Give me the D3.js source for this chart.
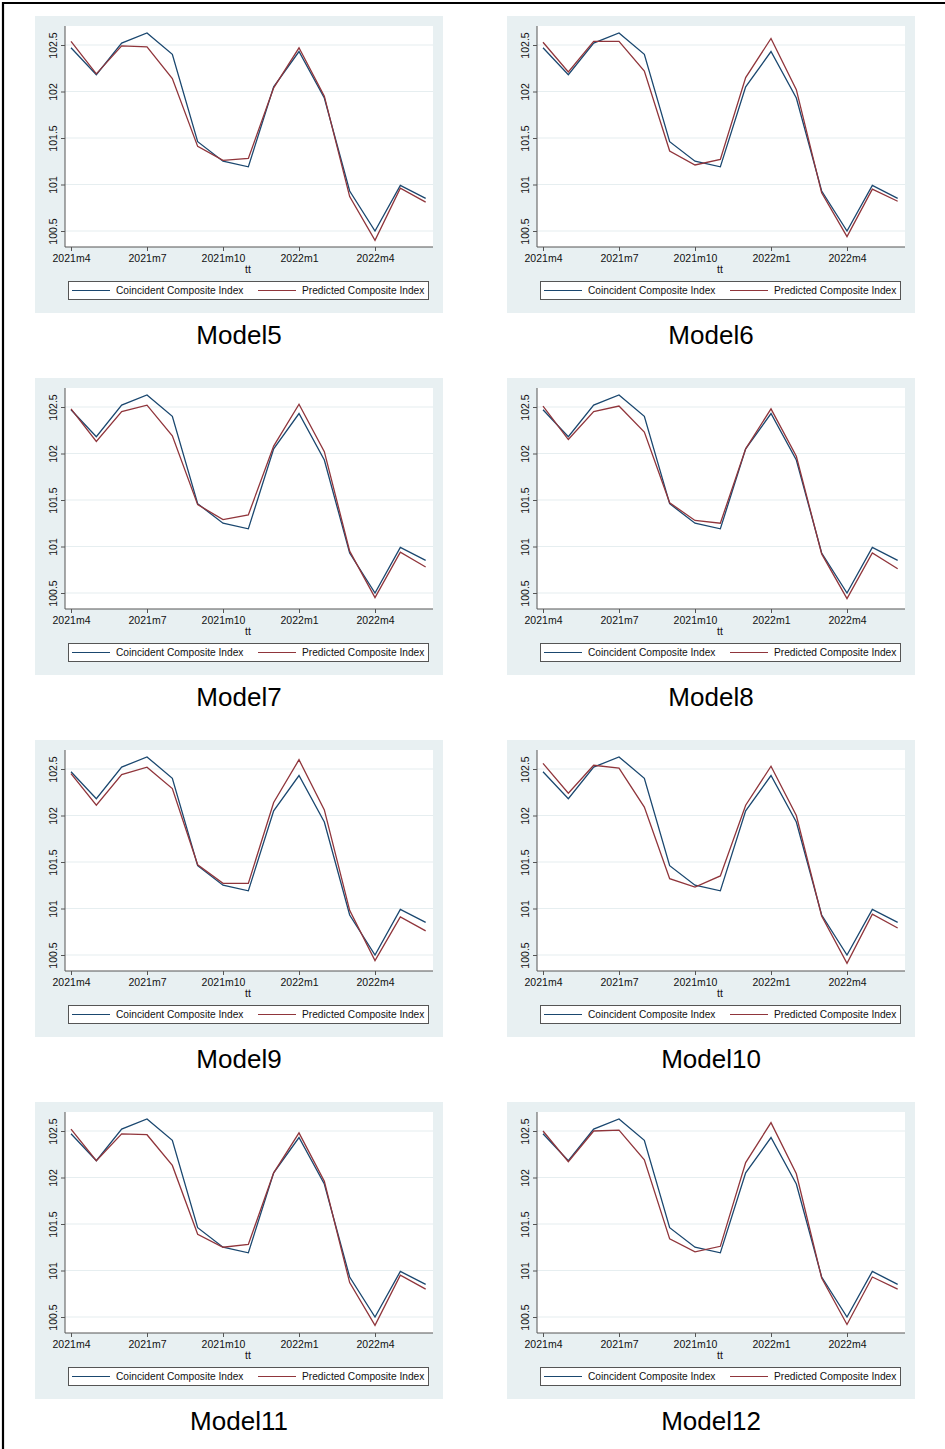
<!DOCTYPE html>
<html>
<head>
<meta charset="utf-8">
<script src="https://cdn.jsdelivr.net/npm/d3@7"></script>
<style>
  html, body { margin: 0; padding: 0; background: #ffffff; }
  svg { display: block; }
  text { font-family: "Liberation Sans", Arial, sans-serif; }
</style>
</head>
<body>
<svg id="chart" width="945" height="1449"></svg>
<script>
// Monthly periods on the x axis
const months = ["2021m4","2021m5","2021m6","2021m7","2021m8","2021m9","2021m10","2021m11","2021m12",
                "2022m1","2022m2","2022m3","2022m4","2022m5","2022m6"];
const xTickLabels = ["2021m4","2021m7","2021m10","2022m1","2022m4"];
const yTicks = [100.5, 101, 101.5, 102, 102.5];

// Coincident composite index (same in every panel)
const coincident = [102.47,102.18,102.52,102.63,102.40,101.46,101.25,101.19,102.05,102.43,101.93,100.93,100.50,100.99,100.85];

// Predicted composite index for each model
const predModel5  = [102.54,102.19,102.49,102.48,102.14,101.41,101.26,101.28,102.04,102.47,101.95,100.87,100.40,100.96,100.81];
const predModel6  = [102.53,102.21,102.54,102.54,102.22,101.36,101.21,101.27,102.15,102.57,102.02,100.91,100.44,100.95,100.82];
const predModel7  = [102.48,102.13,102.45,102.52,102.19,101.45,101.29,101.34,102.08,102.53,102.02,100.95,100.45,100.94,100.78];
const predModel8  = [102.51,102.15,102.45,102.51,102.23,101.47,101.28,101.25,102.05,102.48,101.97,100.92,100.44,100.93,100.76];
const predModel9  = [102.45,102.11,102.44,102.52,102.29,101.47,101.27,101.27,102.14,102.60,102.06,100.98,100.44,100.91,100.76];
const predModel10 = [102.56,102.24,102.54,102.51,102.09,101.32,101.23,101.35,102.11,102.53,102.00,100.92,100.41,100.94,100.79];
const predModel11 = [102.52,102.18,102.47,102.46,102.13,101.39,101.25,101.28,102.05,102.48,101.96,100.87,100.41,100.95,100.80];
const predModel12 = [102.50,102.17,102.50,102.51,102.19,101.34,101.20,101.26,102.16,102.59,102.04,100.92,100.42,100.93,100.80];

const modelNames = ["Model5","Model6","Model7","Model8","Model9","Model10","Model11","Model12"];
const predictedSeries = [predModel5, predModel6, predModel7, predModel8, predModel9, predModel10, predModel11, predModel12];

const seriesNames = ["Coincident Composite Index", "Predicted Composite Index"];
const seriesColors = ["#1a476f", "#90353b"];

const svg = d3.select("#chart");

// Outer frame: top and left rules
svg.append("path")
  .attr("d", "M3,1449 L3,3 L945,3")
  .attr("fill", "none").attr("stroke", "#000").attr("stroke-width", 2.2);

// Panel geometry (local coordinates)
const panelW = 408, panelH = 297;
const plotL = 30, plotR = 398, plotT = 10, plotB = 231;
const colX = [35, 507];
const rowY = [16, 378, 740, 1102];

const x = d3.scaleLinear().domain([0, 12]).range([36, 340]);
const y = d3.scaleLinear().domain([100.5, 102.5]).range([215, 29]);

const line = d3.line().x((d, i) => x(i)).y(d => y(d));

modelNames.forEach((name, k) => {
  const col = k % 2, row = Math.floor(k / 2);
  const g = svg.append("g").attr("transform", `translate(${colX[col]},${rowY[row]})`);

  // graph region
  g.append("rect").attr("width", panelW).attr("height", panelH).attr("fill", "#e8f0f2");
  // plot region
  g.append("rect").attr("x", plotL).attr("y", plotT)
    .attr("width", plotR - plotL).attr("height", plotB - plotT).attr("fill", "#ffffff");

  // horizontal grid lines
  g.selectAll(".grid").data(yTicks).enter().append("line")
    .attr("x1", plotL).attr("x2", plotR)
    .attr("y1", d => y(d)).attr("y2", d => y(d))
    .attr("stroke", "#e6eef0").attr("stroke-width", 1.2);

  // y axis, labels rotated and centred on each tick
  const yAxis = d3.axisLeft(y).tickValues(yTicks).tickSize(4).tickFormat(d => String(d));
  const ya = g.append("g").attr("transform", `translate(${plotL},0)`).call(yAxis);
  ya.select(".domain").attr("d", `M0,${plotT}V${plotB}`).attr("stroke", "#555").attr("stroke-width", 1);
  ya.selectAll(".tick line").attr("stroke", "#555");
  ya.selectAll(".tick text")
    .attr("font-size", 10.5).attr("fill", "#111")
    .attr("text-anchor", "middle")
    .attr("x", 0).attr("y", -8).attr("dy", 0)
    .attr("transform", "rotate(-90)");

  // x axis
  const xAxis = d3.axisBottom(x)
    .tickValues(xTickLabels.map(t => months.indexOf(t)))
    .tickSize(4).tickPadding(4)
    .tickFormat(i => months[i]);
  const xa = g.append("g").attr("transform", `translate(0,${plotB})`).call(xAxis);
  xa.select(".domain").attr("d", `M${plotL},0H${plotR}`).attr("stroke", "#555").attr("stroke-width", 1);
  xa.selectAll(".tick line").attr("stroke", "#555");
  xa.selectAll(".tick text").attr("font-size", 10.5).attr("fill", "#111");

  g.append("text").attr("x", (plotL + plotR) / 2 - 1).attr("y", 257)
    .attr("text-anchor", "middle").attr("font-size", 10.5).attr("fill", "#111").text("tt");

  // series
  [coincident, predictedSeries[k]].forEach((vals, s) => {
    g.append("path").datum(vals)
      .attr("d", line).attr("fill", "none")
      .attr("stroke", seriesColors[s]).attr("stroke-width", 1.3)
      .attr("stroke-linejoin", "miter");
  });

  // legend
  const lg = g.append("g");
  lg.append("rect").attr("x", 33.5).attr("y", 265.5).attr("width", 360).attr("height", 18)
    .attr("fill", "#ffffff").attr("stroke", "#555").attr("stroke-width", 1);
  const keyX = [37, 223];
  seriesNames.forEach((nm, s) => {
    lg.append("line").attr("x1", keyX[s]).attr("x2", keyX[s] + 38)
      .attr("y1", 274.5).attr("y2", 274.5)
      .attr("stroke", seriesColors[s]).attr("stroke-width", 1.2);
    lg.append("text").attr("x", keyX[s] + 44).attr("y", 278)
      .attr("font-size", 10.2).attr("fill", "#111").text(nm);
  });

  // model caption
  g.append("text").attr("x", panelW / 2).attr("y", 328)
    .attr("text-anchor", "middle").attr("font-size", 26).attr("fill", "#000").text(name);
});
</script>
</body>
</html>
